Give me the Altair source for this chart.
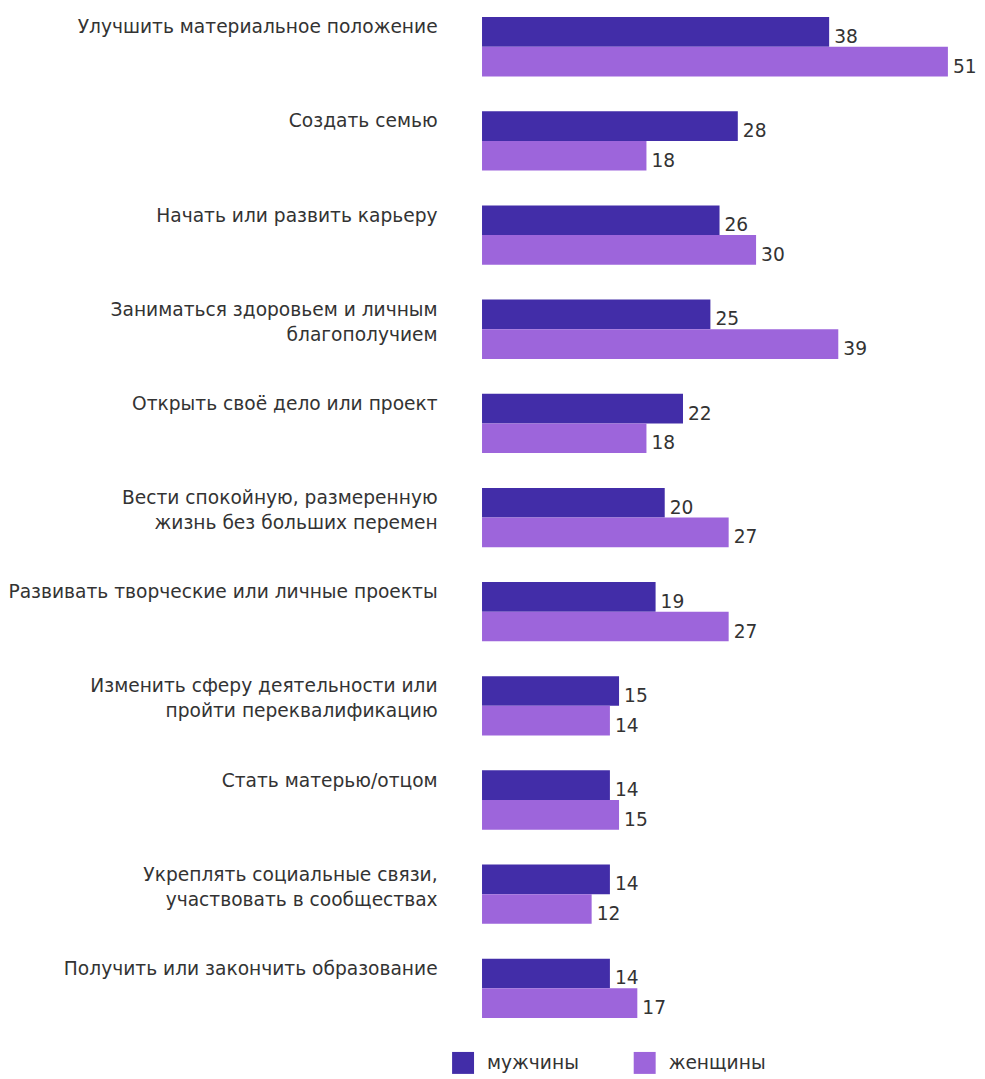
import altair as alt
import pandas as pd

categories = [
    "Улучшить материальное положение",
    "Создать семью",
    "Начать или развить карьеру",
    "Заниматься здоровьем и личным|благополучием",
    "Открыть своё дело или проект",
    "Вести спокойную, размеренную|жизнь без больших перемен",
    "Развивать творческие или личные проекты",
    "Изменить сферу деятельности или|пройти переквалификацию",
    "Стать матерью/отцом",
    "Укреплять социальные связи,|участвовать в сообществах",
    "Получить или закончить образование",
]
men = [38, 28, 26, 25, 22, 20, 19, 15, 14, 14, 14]
women = [51, 18, 30, 39, 18, 27, 27, 14, 15, 12, 17]
series = ["мужчины", "женщины"]
colors = ["#422DA8", "#9D65DB"]

rows = []
for c, m, w in zip(categories, men, women):
    rows.append({"cat": c, "g": series[0], "v": m})
    rows.append({"cat": c, "g": series[1], "v": w})
df = pd.DataFrame(rows)

FS = 18.67

y = alt.Y(
    "cat:N",
    sort=categories,
    scale=alt.Scale(paddingInner=0.37, paddingOuter=0.085),
    axis=alt.Axis(
        title=None,
        domain=False,
        ticks=False,
        labelBaseline="top",
        labelAlign="right",
        labelPadding=45,
        labelFontSize=FS,
        labelFont="DejaVu Sans",
        labelColor="#333333",
        labelLineHeight=25,
        labelLimit=700,
        labelOffset=-28.5,
        labelExpr="split(datum.label, '|')",
    ),
)
yoff = alt.YOffset("g:N", sort=series, scale=alt.Scale(paddingInner=0, paddingOuter=0))
x = alt.X("v:Q", scale=alt.Scale(domain=[0, 52], nice=False), axis=None)

base = alt.Chart(df).encode(y=y, yOffset=yoff, x=x)

bars = base.mark_bar().encode(
    color=alt.Color(
        "g:N",
        sort=series,
        scale=alt.Scale(domain=series, range=colors),
        legend=alt.Legend(
            title=None,
            orient="none",
            direction="horizontal",
            legendX=-30,
            legendY=1045,
            symbolType="square",
            symbolSize=484,
            symbolStrokeWidth=0,
            symbolOpacity=1,
            labelFontSize=FS,
            labelFont="DejaVu Sans",
            labelColor="#333333",
            labelOffset=13,
            columnPadding=55,
        ),
    )
)
texts = base.mark_text(
    align="left", baseline="alphabetic", dx=5, dy=11, fontSize=FS, font="DejaVu Sans", color="#333333"
).encode(text="v:Q")

chart = (
    (bars + texts)
    .properties(width=476, height=1019, padding=0)
    .configure_view(stroke=None)
)
chart.save("out.html", embed_options={"renderer": "svg", "actions": False})
